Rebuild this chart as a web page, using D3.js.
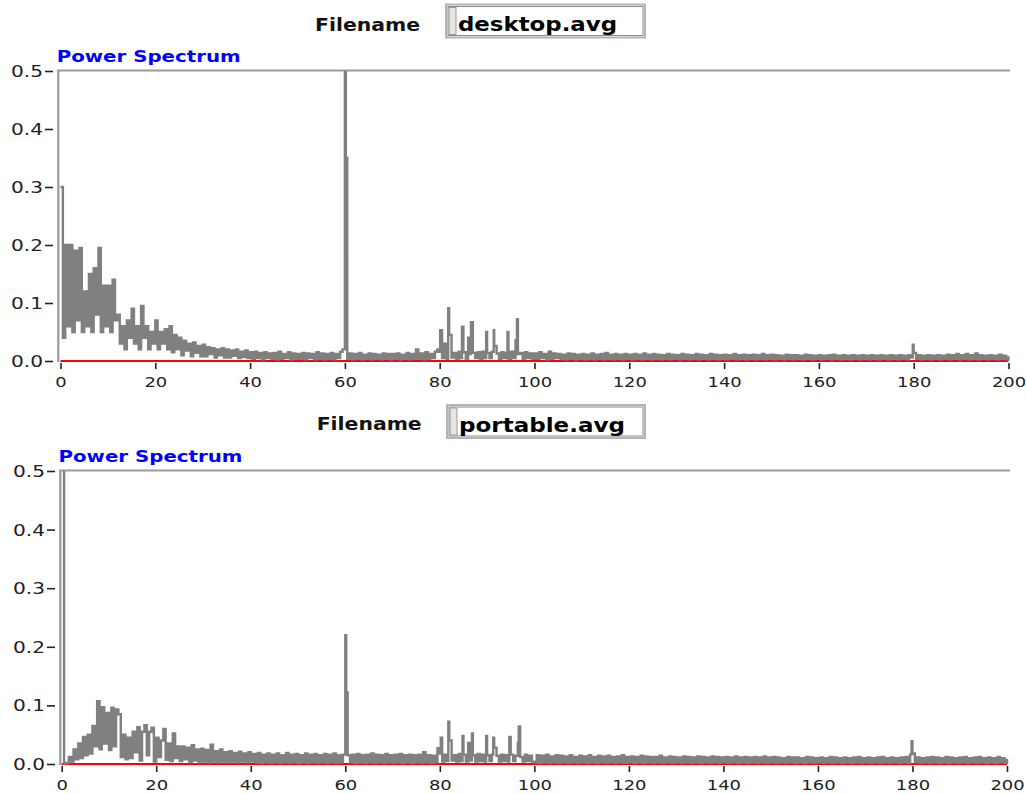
<!DOCTYPE html>
<html>
<head>
<meta charset="utf-8">
<script src="https://cdn.jsdelivr.net/npm/d3@7/dist/d3.min.js"></script>
<style>
  html, body { margin: 0; padding: 0; background: #ffffff; }
  svg { display: block; }
</style>
</head>
<body>
<svg id="chart" width="1026" height="794"></svg>
<script>
// ---------------- DATA ----------------
const freqStep = 0.5;            // Hz between base spectrum samples
const xTicks = [0, 20, 40, 60, 80, 100, 120, 140, 160, 180, 200];
const yTicks = [0.0, 0.1, 0.2, 0.3, 0.4, 0.5];
const fileNames = ["desktop.avg", "portable.avg"];
const zeroLevel = 0;

// desktop.avg power spectrum, 0..200 Hz every 0.5 Hz
const desktopBase = [
  0.30, 0.04, 0.20, 0.06, 0.20, 0.05, 0.19, 0.07, 0.195, 0.05,
  0.12, 0.06, 0.15, 0.05, 0.16, 0.08, 0.195, 0.05, 0.13, 0.06,
  0.13, 0.05, 0.14, 0.07, 0.08, 0.03, 0.06, 0.02, 0.07, 0.04,
  0.09, 0.03, 0.06, 0.02, 0.095, 0.04, 0.06, 0.02, 0.05, 0.03,
  0.07, 0.02, 0.05, 0.03, 0.055, 0.02, 0.06, 0.015, 0.045, 0.02,
  0.04, 0.01, 0.035, 0.018, 0.03, 0.008, 0.032, 0.014, 0.026, 0.008,
  0.028, 0.008, 0.024, 0.012, 0.022, 0.006, 0.02, 0.01, 0.022, 0.006,
  0.02, 0.006, 0.018, 0.009, 0.02, 0.005, 0.016, 0.007, 0.018, 0.005,
  0.015, 0.004, 0.016, 0.005, 0.014, 0.003, 0.015, 0.005, 0.013, 0.004,
  0.014, 0.003, 0.016, 0.004, 0.012, 0.005, 0.015, 0.003, 0.013, 0.004,
  0.012, 0.004, 0.014, 0.003, 0.013, 0.005, 0.012, 0.003, 0.015, 0.004,
  0.013, 0.003, 0.012, 0.004, 0.014, 0.003, 0.012, 0.005, 0.016, 0.02,
  0.012, 0.004, 0.013, 0.003, 0.012, 0.004, 0.014, 0.003, 0.011, 0.004,
  0.013, 0.003, 0.012, 0.004, 0.011, 0.003, 0.013, 0.004, 0.012, 0.003,
  0.012, 0.004, 0.013, 0.003, 0.011, 0.004, 0.014, 0.003, 0.012, 0.004,
  0.02, 0.004, 0.013, 0.003, 0.015, 0.004, 0.012, 0.005, 0.016, 0.02,
  0.016, 0.005, 0.03, 0.004, 0.045, 0.006, 0.014, 0.004, 0.016, 0.005,
  0.015, 0.004, 0.04, 0.012, 0.014, 0.005, 0.015, 0.004, 0.016, 0.005,
  0.014, 0.005, 0.016, 0.026, 0.013, 0.004, 0.015, 0.005, 0.014, 0.004,
  0.016, 0.005, 0.036, 0.012, 0.014, 0.004, 0.015, 0.005, 0.013, 0.004,
  0.013, 0.004, 0.015, 0.005, 0.012, 0.003, 0.016, 0.004, 0.013, 0.005,
  0.012, 0.004, 0.011, 0.003, 0.013, 0.004, 0.012, 0.003, 0.011, 0.004,
  0.012, 0.003, 0.011, 0.004, 0.013, 0.003, 0.011, 0.004, 0.012, 0.003,
  0.014, 0.004, 0.011, 0.003, 0.012, 0.004, 0.011, 0.003, 0.012, 0.004,
  0.011, 0.003, 0.012, 0.004, 0.011, 0.003, 0.013, 0.004, 0.011, 0.003,
  0.012, 0.004, 0.011, 0.003, 0.01, 0.004, 0.012, 0.003, 0.011, 0.004,
  0.01, 0.003, 0.012, 0.004, 0.011, 0.003, 0.01, 0.004, 0.012, 0.003,
  0.011, 0.004, 0.01, 0.003, 0.012, 0.004, 0.011, 0.003, 0.01, 0.004,
  0.011, 0.003, 0.01, 0.004, 0.012, 0.003, 0.01, 0.004, 0.011, 0.003,
  0.01, 0.004, 0.011, 0.003, 0.01, 0.004, 0.012, 0.003, 0.01, 0.004,
  0.011, 0.003, 0.01, 0.004, 0.009, 0.003, 0.011, 0.004, 0.01, 0.003,
  0.01, 0.004, 0.009, 0.003, 0.011, 0.004, 0.01, 0.003, 0.009, 0.004,
  0.01, 0.003, 0.009, 0.004, 0.01, 0.003, 0.011, 0.004, 0.009, 0.003,
  0.01, 0.004, 0.009, 0.003, 0.01, 0.004, 0.009, 0.003, 0.01, 0.004,
  0.009, 0.003, 0.01, 0.004, 0.009, 0.003, 0.01, 0.004, 0.009, 0.003,
  0.01, 0.004, 0.009, 0.003, 0.01, 0.004, 0.009, 0.003, 0.01, 0.006,
  0.014, 0.004, 0.01, 0.003, 0.009, 0.004, 0.01, 0.003, 0.009, 0.004,
  0.01, 0.003, 0.009, 0.004, 0.011, 0.003, 0.01, 0.004, 0.012, 0.003,
  0.01, 0.004, 0.012, 0.003, 0.01, 0.004, 0.013, 0.003, 0.01, 0.004,
  0.009, 0.003, 0.01, 0.004, 0.009, 0.003, 0.011, 0.004, 0.009, 0.003,
  0.008
];
// narrow spectral lines of desktop.avg (Hz, value)
const desktopPeakFreq = [60.0, 60.2, 80.1, 81.8, 84.7, 86.6, 89.8, 91.4, 94.3, 96.3, 179.8];
const desktopPeakVal  = [0.50, 0.35, 0.053, 0.091, 0.059, 0.067, 0.05, 0.053, 0.05, 0.072, 0.028];

// portable.avg power spectrum, 0..200 Hz every 0.5 Hz
const portableBase = [
  0.52, 0.001, 0.002, 0.012, 0.004, 0.025, 0.008, 0.035, 0.01, 0.046,
  0.015, 0.05, 0.018, 0.065, 0.03, 0.107, 0.025, 0.097, 0.035, 0.087,
  0.024, 0.096, 0.03, 0.093, 0.085, 0.012, 0.05, 0.008, 0.045, 0.01,
  0.055, 0.02, 0.063, 0.006, 0.055, 0.066, 0.015, 0.055, 0.062, 0.004,
  0.045, 0.012, 0.04, 0.06, 0.007, 0.035, 0.005, 0.052, 0.01, 0.03,
  0.005, 0.03, 0.008, 0.028, 0.003, 0.032, 0.006, 0.025, 0.003, 0.026,
  0.004, 0.024, 0.003, 0.033, 0.004, 0.022, 0.003, 0.025, 0.004, 0.02,
  0.003, 0.022, 0.004, 0.019, 0.003, 0.021, 0.004, 0.018, 0.003, 0.02,
  0.004, 0.017, 0.003, 0.019, 0.002, 0.016, 0.003, 0.018, 0.002, 0.016,
  0.003, 0.018, 0.002, 0.015, 0.003, 0.019, 0.002, 0.016, 0.003, 0.017,
  0.002, 0.015, 0.003, 0.018, 0.002, 0.016, 0.003, 0.017, 0.002, 0.015,
  0.003, 0.017, 0.002, 0.016, 0.003, 0.018, 0.002, 0.015, 0.003, 0.016,
  0.002, 0.015, 0.003, 0.016, 0.002, 0.017, 0.003, 0.015, 0.002, 0.016,
  0.003, 0.018, 0.002, 0.016, 0.003, 0.015, 0.002, 0.017, 0.003, 0.015,
  0.002, 0.016, 0.003, 0.017, 0.002, 0.015, 0.003, 0.016, 0.002, 0.015,
  0.003, 0.016, 0.002, 0.02, 0.003, 0.015, 0.002, 0.014, 0.003, 0.027,
  0.018, 0.004, 0.016, 0.005, 0.04, 0.006, 0.015, 0.004, 0.017, 0.005,
  0.016, 0.004, 0.036, 0.006, 0.015, 0.004, 0.017, 0.005, 0.016, 0.004,
  0.015, 0.005, 0.016, 0.028, 0.014, 0.004, 0.016, 0.005, 0.015, 0.004,
  0.016, 0.005, 0.014, 0.036, 0.012, 0.004, 0.016, 0.005, 0.014, 0.004,
  0.003, 0.015, 0.002, 0.014, 0.003, 0.016, 0.002, 0.013, 0.003, 0.015,
  0.002, 0.014, 0.003, 0.013, 0.002, 0.015, 0.003, 0.012, 0.002, 0.014,
  0.003, 0.013, 0.002, 0.015, 0.003, 0.012, 0.002, 0.014, 0.003, 0.013,
  0.002, 0.014, 0.003, 0.012, 0.002, 0.013, 0.003, 0.015, 0.002, 0.012,
  0.003, 0.013, 0.002, 0.012, 0.003, 0.014, 0.002, 0.013, 0.003, 0.012,
  0.002, 0.012, 0.003, 0.014, 0.002, 0.011, 0.003, 0.013, 0.002, 0.012,
  0.003, 0.011, 0.002, 0.013, 0.003, 0.012, 0.002, 0.011, 0.003, 0.013,
  0.002, 0.012, 0.003, 0.011, 0.002, 0.013, 0.003, 0.012, 0.002, 0.011,
  0.003, 0.012, 0.002, 0.011, 0.003, 0.013, 0.002, 0.011, 0.003, 0.012,
  0.002, 0.011, 0.003, 0.012, 0.002, 0.011, 0.003, 0.013, 0.002, 0.011,
  0.003, 0.012, 0.002, 0.011, 0.003, 0.01, 0.002, 0.012, 0.003, 0.011,
  0.002, 0.011, 0.003, 0.01, 0.002, 0.012, 0.003, 0.011, 0.002, 0.01,
  0.003, 0.011, 0.002, 0.01, 0.003, 0.012, 0.002, 0.011, 0.003, 0.01,
  0.002, 0.011, 0.003, 0.01, 0.002, 0.011, 0.003, 0.012, 0.002, 0.01,
  0.003, 0.011, 0.002, 0.01, 0.003, 0.011, 0.002, 0.012, 0.003, 0.01,
  0.002, 0.011, 0.003, 0.01, 0.002, 0.011, 0.003, 0.012, 0.002, 0.016,
  0.018, 0.003, 0.011, 0.002, 0.01, 0.003, 0.011, 0.002, 0.012, 0.003,
  0.011, 0.002, 0.01, 0.003, 0.012, 0.002, 0.011, 0.003, 0.01, 0.002,
  0.011, 0.003, 0.012, 0.002, 0.01, 0.003, 0.011, 0.002, 0.012, 0.003,
  0.01, 0.002, 0.011, 0.003, 0.01, 0.002, 0.012, 0.003, 0.01, 0.002,
  0.009
];
const portablePeakFreq = [60.0, 60.2, 80.2, 81.8, 84.8, 86.8, 89.8, 91.3, 94.7, 96.7, 179.8];
const portablePeakVal  = [0.22, 0.122, 0.045, 0.072, 0.048, 0.052, 0.048, 0.045, 0.046, 0.064, 0.039];

// ---------------- DRAWING ----------------
const svg = d3.select("#chart");
const TXT = "'DejaVu Sans', Verdana, sans-serif";
const stretch = 1.3;

function buildSeries(base, pf, pv) {
  const pts = base.map((v, i) => ({ f: i * freqStep, v }))
    .filter(p => !pf.some(f => Math.abs(f - p.f) < 1e-9));
  const peaks = pf.map((f, j) => ({ f, v: pv[j] }));
  return pts.concat(peaks).sort((a, b) => a.f - b.f);
}

const panels = [
  { name: fileNames[0], data: buildSeries(desktopBase, desktopPeakFreq, desktopPeakVal),
    x0: 60.5, x1: 1008.5, yTop: 71, yZero: 361, axisX: 58.3,
    header: { labelX: 315, base: 31, boxX: 446, boxY: 4.5, boxW: 199, boxH: 33, textX: 458, textBase: 31, textLen: 159 },
    title: { x: 56.7, base: 62 } },
  { name: fileNames[1], data: buildSeries(portableBase, portablePeakFreq, portablePeakVal),
    x0: 61.7, x1: 1007, yTop: 471, yZero: 764, axisX: 60.3,
    header: { labelX: 316.7, base: 430, boxX: 447, boxY: 405, boxW: 198, boxH: 33, textX: 459, textBase: 432, textLen: 166 },
    title: { x: 58.5, base: 461.7 } }
];

panels.forEach((p, k) => {
  const g = svg.append("g");
  const x = d3.scaleLinear().domain([xTicks[0], xTicks[xTicks.length - 1]]).range([p.x0, p.x1]);
  const y = d3.scaleLinear().domain([yTicks[0], yTicks[yTicks.length - 1]]).range([p.yZero, p.yTop]);

  // header: Filename + text box
  const h = p.header;
  g.append("text").attr("x", h.labelX).attr("y", h.base)
    .attr("font-family", TXT).attr("font-weight", "bold").attr("font-size", 18)
    .attr("textLength", 105).attr("lengthAdjust", "spacingAndGlyphs")
    .attr("fill", "#111").text("Filename");
  g.append("rect").attr("x", h.boxX).attr("y", h.boxY).attr("width", h.boxW).attr("height", h.boxH)
    .attr("fill", "#fff").attr("stroke", "#b4b4b4").attr("stroke-width", 2);
  g.append("rect").attr("x", h.boxX + 2).attr("y", h.boxY + 2).attr("width", h.boxW - 4).attr("height", h.boxH - 4)
    .attr("fill", "none").attr("stroke", "#8a8a8a").attr("stroke-width", 1);
  g.append("rect").attr("x", h.boxX + 3).attr("y", h.boxY + 3).attr("width", 7).attr("height", h.boxH - 6)
    .attr("fill", "#e6e6e6").attr("stroke", "#9a9a9a").attr("stroke-width", 1);
  g.append("text").attr("x", h.textX).attr("y", h.textBase)
    .attr("font-family", TXT).attr("font-weight", "bold").attr("font-size", 20)
    .attr("textLength", h.textLen).attr("lengthAdjust", "spacingAndGlyphs")
    .attr("fill", "#000").text(p.name);

  // title
  g.append("text").attr("x", p.title.x).attr("y", p.title.base)
    .attr("font-family", TXT).attr("font-weight", "bold").attr("font-size", 15.5)
    .attr("textLength", 184).attr("lengthAdjust", "spacingAndGlyphs")
    .attr("fill", "#0000ff").text("Power Spectrum");

  // frame (left + top)
  g.append("line").attr("x1", p.axisX).attr("x2", p.axisX).attr("y1", p.yTop - 1).attr("y2", p.yZero + 1)
    .attr("stroke", "#9a9a9a").attr("stroke-width", 2.2);
  g.append("line").attr("x1", p.axisX - 1).attr("x2", 1010).attr("y1", p.yTop - 0.5).attr("y2", p.yTop - 0.5)
    .attr("stroke", "#9a9a9a").attr("stroke-width", 2);

  // y axis
  const ya = g.append("g").attr("transform", `translate(${p.axisX - 5.3},0)`)
    .call(d3.axisLeft(y).tickValues(yTicks).tickFormat(d3.format(".1f")).tickSize(8).tickPadding(0));
  ya.select(".domain").remove();
  ya.selectAll(".tick line").attr("stroke", "#222").attr("stroke-width", 1.6);
  ya.selectAll(".tick text").attr("font-family", TXT).attr("font-size", 15.5).attr("fill", "#222")
    .attr("x", -10 / stretch).attr("dy", "0.36em").attr("transform", `scale(${stretch},1)`);

  // x axis
  const xa = g.append("g").attr("transform", `translate(0,${p.yZero + 2})`)
    .call(d3.axisBottom(x).tickValues(xTicks).tickFormat(d3.format("d")).tickSize(6));
  xa.select(".domain").remove();
  xa.selectAll(".tick line").attr("stroke", "#222").attr("stroke-width", 1.6);
  xa.selectAll(".tick text").attr("font-family", TXT).attr("font-size", 13.8).attr("fill", "#222")
    .attr("y", 24).attr("dy", 0).attr("transform", `scale(${stretch},1)`);

  // clip
  const clipId = "clip" + k;
  svg.append("clipPath").attr("id", clipId).append("rect")
    .attr("x", p.axisX).attr("y", p.yTop).attr("width", 1012 - p.axisX).attr("height", p.yZero - p.yTop + 3);

  const plot = g.append("g").attr("clip-path", `url(#${clipId})`);
  // red zero line
  plot.append("path")
    .datum([{ f: xTicks[0], v: zeroLevel }, { f: xTicks[xTicks.length - 1], v: zeroLevel }])
    .attr("d", d3.line().x(d => x(d.f)).y(d => y(d.v)))
    .attr("stroke", "#ff0000").attr("stroke-width", 2).attr("fill", "none");
  // spectrum
  plot.append("path").datum(p.data)
    .attr("d", d3.line().x(d => x(d.f)).y(d => y(d.v)).curve(d3.curveStepAfter))
    .attr("stroke", "#808080").attr("stroke-width", 2.4).attr("fill", "none")
    .attr("stroke-linejoin", "miter");
});
</script>
</body>
</html>
